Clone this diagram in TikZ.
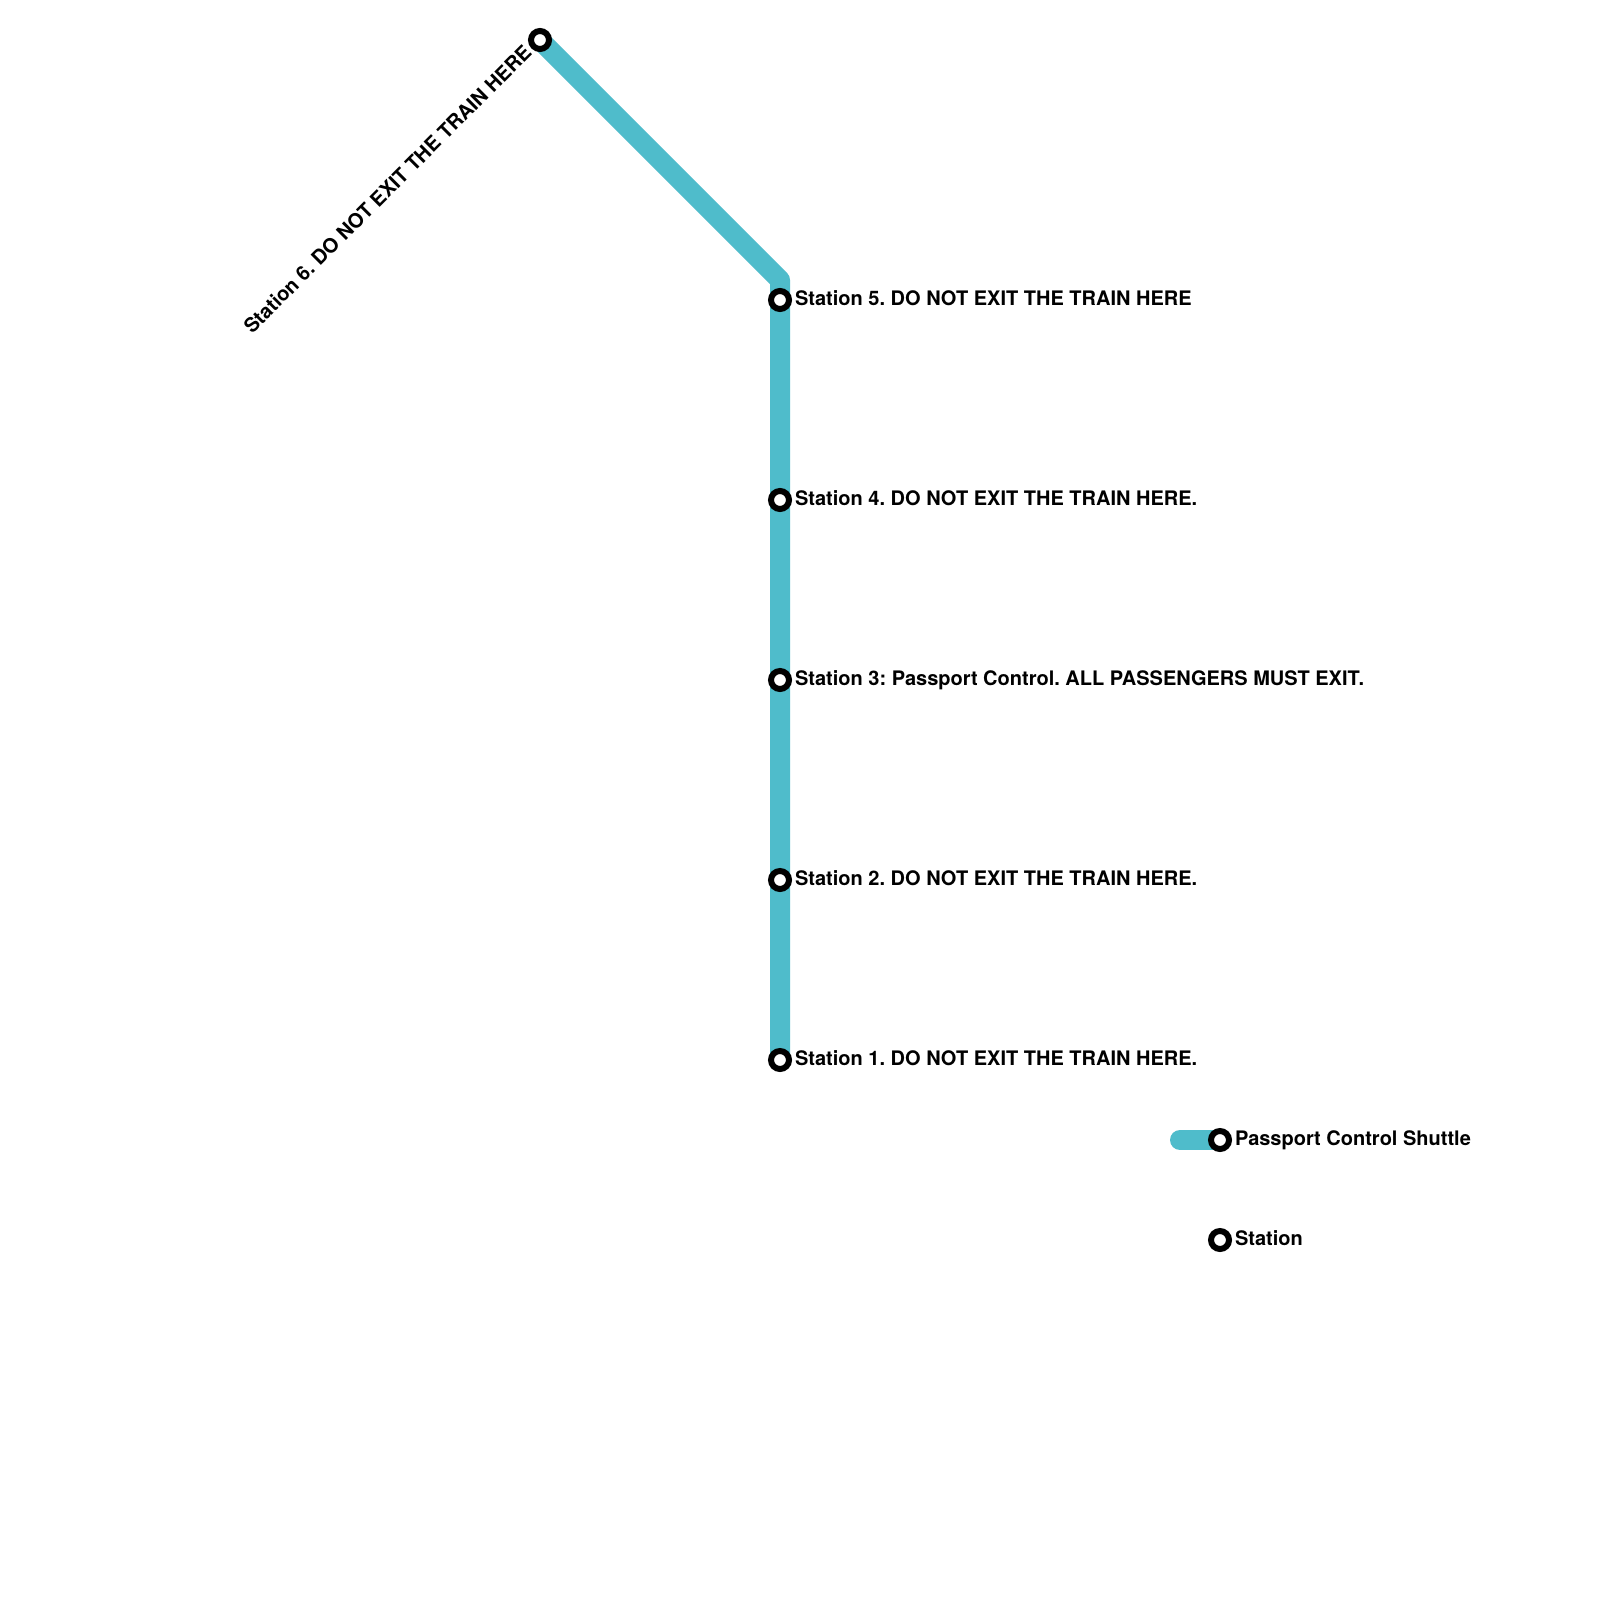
\documentclass[tikz,border=0pt]{standalone}
\usepackage{fontspec}
\setmainfont{TeX Gyre Heros}
\frenchspacing
\definecolor{shuttle}{HTML}{4FBCCB}
\tikzset{
  route/.style={draw=shuttle,line width=20pt,line cap=round,line join=round},
  stop/.style={circle,draw=black,line width=6pt,fill=white,minimum size=18pt,inner sep=0pt,outer sep=0pt},
  lbl/.style={anchor=base west,inner sep=0pt,outer sep=0pt,font=\fontsize{20}{24}\selectfont\bfseries,text=black},
}
\begin{document}
\begin{tikzpicture}[x=1pt,y=-1pt]
\useasboundingbox (0,0) rectangle (1600,1600);
\fill[white] (0,0) rectangle (1600,1600);
\coordinate (s6) at (540,40);
\coordinate (bend) at (780,280);
\coordinate (s5) at (780,300);
\coordinate (s4) at (780,500);
\coordinate (s3) at (780,680);
\coordinate (s2) at (780,880);
\coordinate (s1) at (780,1060);
\coordinate (legA) at (1180,1140);
\coordinate (legB) at (1220,1140);
\coordinate (legC) at (1220,1240);
\draw[route] (s6) -- (bend) -- (s1);
\draw[route] (legA) -- (legB);
\node[stop] (n6) at (s6) {};
\node[stop] (n5) at (s5) {};
\node[stop] (n4) at (s4) {};
\node[stop] (n3) at (s3) {};
\node[stop] (n2) at (s2) {};
\node[stop] (n1) at (s1) {};
\node[stop] (nl) at (legB) {};
\node[stop] (ns) at (legC) {};
\node[lbl] (t5) at (795,305) {Station 5. DO NOT EXIT THE TRAIN HERE};
\node[lbl] (t4) at (795,505) {Station 4. DO NOT EXIT THE TRAIN HERE.};
\node[lbl] (t3) at (795,685) {Station 3: Passport Control. ALL PASSENGERS MUST EXIT.};
\node[lbl] (t2) at (795,885) {Station 2. DO NOT EXIT THE TRAIN HERE.};
\node[lbl] (t1) at (795,1065) {Station 1. DO NOT EXIT THE TRAIN HERE.};
\node[lbl] (tl) at (1235,1145) {Passport Control Shuttle};
\node[lbl] (ts) at (1235,1245) {Station};
\node[lbl,anchor=base east,rotate=45] (t6) at (532.7,54) {Station 6. DO NOT EXIT THE TRAIN HERE};
\end{tikzpicture}
\end{document}
